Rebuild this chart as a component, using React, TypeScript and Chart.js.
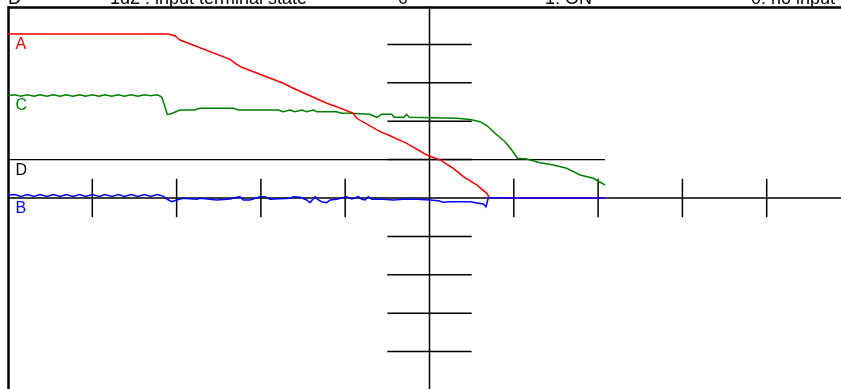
import React, { useEffect, useRef } from "react";
import { Chart, registerables } from "chart.js";

Chart.register(...registerables);

// Trace A (red)
const uA = [-5.0, -3.098, -3.019, -2.992, -2.96, -2.367, -2.287, -2.228, -1.734, -1.616, -1.219, -1.101, -0.904, -0.864, -0.587, -0.489, -0.27, -0.033, 0.125, 0.282, 0.401, 0.56, 0.679, 0.709, 2.082];
const vA = [4.27, 4.27, 4.219, 4.174, 4.115, 3.612, 3.482, 3.404, 2.987, 2.857, 2.466, 2.378, 2.206, 2.076, 1.727, 1.641, 1.424, 1.12, 0.99, 0.773, 0.555, 0.339, 0.122, 0.013, 0.0];

// Trace C (green)
const uC = [-5.0, -4.92, -4.85, -4.77, -4.69, -4.62, -4.54, -4.46, -4.38, -4.31, -4.23, -4.15, -4.08, -4.0, -3.92, -3.85, -3.77, -3.69, -3.62, -3.54, -3.46, -3.38, -3.31, -3.23,
  -3.177, -3.158, -3.11, -3.078, -2.96, -2.782, -2.722, -2.327, -2.268, -1.794, -1.734, -1.655, -1.595, -1.516, -1.457, -1.378, -1.338, -1.101, -1.042, -0.943, -0.706, -0.626, -0.567, -0.448, -0.421, -0.302, -0.273, -0.24, 0.323, 0.48, 0.599, 0.679, 0.777, 0.896, 0.975, 1.042, 1.153, 1.311, 1.469, 1.628, 1.785, 1.943, 2.082];
const vC = [2.66, 2.69, 2.65, 2.69, 2.65, 2.69, 2.65, 2.69, 2.65, 2.69, 2.65, 2.69, 2.65, 2.69, 2.65, 2.69, 2.65, 2.69, 2.65, 2.69, 2.65, 2.69, 2.66, 2.69,
  2.638, 2.508, 2.18, 2.18, 2.292, 2.292, 2.336, 2.336, 2.292, 2.292, 2.247, 2.292, 2.247, 2.292, 2.247, 2.292, 2.247, 2.247, 2.206, 2.206, 2.18, 2.102, 2.18, 2.18, 2.102, 2.102, 2.18, 2.102, 2.076, 2.044, 1.987, 1.888, 1.685, 1.464, 1.25, 1.034, 1.016, 0.919, 0.859, 0.773, 0.599, 0.513, 0.339];

// Trace B (blue)
const uB = [-5.0, -4.92, -4.85, -4.77, -4.69, -4.62, -4.54, -4.46, -4.38, -4.31, -4.23, -4.15, -4.08, -4.0, -3.92, -3.85, -3.77, -3.69, -3.62, -3.54, -3.46, -3.38, -3.31, -3.23, -3.16,
  -3.117, -3.058, -2.999, -2.921, -2.762, -2.722, -2.524, -2.367, -2.248, -2.209, -2.129, -2.011, -1.951, -1.892, -1.655, -1.616, -1.536, -1.457, -1.418, -1.358, -1.319, -1.279, -1.219, -1.18, -1.101, -0.982, -0.923, -0.845, -0.804, -0.765, -0.726, -0.686, -0.548, -0.429, -0.311, -0.152, 0.006, 0.104, 0.164, 0.243, 0.48, 0.638, 0.67, 0.698, 0.916, 0.93, 2.082];
const vB = [0.07, 0.09, 0.04, 0.09, 0.04, 0.09, 0.04, 0.09, 0.04, 0.09, 0.04, 0.09, 0.04, 0.09, 0.04, 0.09, 0.04, 0.09, 0.04, 0.09, 0.04, 0.09, 0.04, 0.09, 0.05,
  -0.026, -0.096, -0.052, -0.008, -0.034, -0.008, -0.052, -0.026, 0.034, -0.052, -0.052, 0.034, 0.034, -0.034, -0.008, 0.034, 0.018, -0.052, -0.122, 0.034, -0.052, -0.096, -0.122, -0.052, -0.034, 0.034, -0.026, 0.034, -0.034, -0.052, 0.034, -0.034, -0.034, -0.052, -0.034, -0.034, -0.052, -0.07, -0.112, -0.096, -0.096, -0.156, -0.227, 0.008, 0.008, 0.0, 0.0];

// Trace D (black, digital)
const uD = [-5.0, 2.082];
const vD = [1, 1];

// Trace labels and their reference levels
const traceLabels = ["A", "C", "D", "B"];
const traceLevels = [4.27, 2.68, 1, 0];
const traceColors = ["#ff0000", "#008000", "#000000", "#0000ff"];

// Header texts (cut off at the top of the picture)
const headerTexts = ["D", "1d2 : input terminal state", "0", "1: ON", "0: no input"];
const headerX = [8, 110, 398, 545, 751];

// Graticule tick positions (divisions)
const xTicks = [-4, -3, -2, -1, 1, 2, 3, 4];
const yTicks = [-4, -3, -2, -1, 1, 2, 3, 4];

const pts = (u: number[], v: number[]) => u.map((x, i) => ({ x, y: v[i] }));

const FONT = "'Liberation Sans', Arial, Helvetica, sans-serif";

const overlay = {
  id: "overlay",
  beforeDatasetsDraw(chart: any) {
    const { ctx, chartArea, scales } = chart;
    const sx = scales.x, sy = scales.y;
    const x0 = sx.getPixelForValue(0);
    const y0 = sy.getPixelForValue(0);
    ctx.save();
    ctx.strokeStyle = "#000";
    ctx.lineWidth = 1.5;
    const ln = (a: number, b: number, c: number, d: number) => {
      ctx.beginPath();
      ctx.moveTo(a, b);
      ctx.lineTo(c, d);
      ctx.stroke();
    };
    ln(x0, chartArea.top, x0, chartArea.bottom);
    ln(chartArea.left, y0, chartArea.right, y0);
    for (const t of yTicks) {
      const py = sy.getPixelForValue(t);
      ln(sx.getPixelForValue(-0.5), py, sx.getPixelForValue(0.5), py);
    }
    for (const t of xTicks) {
      const px = sx.getPixelForValue(t);
      ln(px, sy.getPixelForValue(0.5), px, sy.getPixelForValue(-0.5));
    }
    ctx.lineWidth = 2.5;
    ln(chartArea.left, chartArea.top + 1.5, chartArea.right, chartArea.top + 1.5);
    ln(chartArea.left + 0.5, chartArea.top, chartArea.left + 0.5, chartArea.bottom);
    ctx.restore();
  },
  afterDatasetsDraw(chart: any) {
    const { ctx, scales } = chart;
    const sy = scales.y;
    ctx.save();
    ctx.textBaseline = "alphabetic";
    ctx.textAlign = "left";
    ctx.font = `16px ${FONT}`;
    traceLabels.forEach((l, i) => {
      ctx.fillStyle = traceColors[i];
      ctx.fillText(l, 15.5, sy.getPixelForValue(traceLevels[i]) + 15);
    });
    ctx.font = `18px ${FONT}`;
    ctx.fillStyle = "#000";
    headerTexts.forEach((t, i) => ctx.fillText(t, headerX[i], 4));
    ctx.restore();
  },
};

export default function App() {
  const ref = useRef<HTMLCanvasElement | null>(null);
  useEffect(() => {
    if (!ref.current) return;
    const common = { pointRadius: 0, borderWidth: 1.5, tension: 0, fill: false };
    const chart = new Chart(ref.current, {
      type: "line",
      data: {
        datasets: [
          { label: "B", data: pts(uB, vB), borderColor: "#0000ff", ...common },
          { label: "A", data: pts(uA, vA), borderColor: "#ff0000", ...common },
          { label: "C", data: pts(uC, vC), borderColor: "#008000", ...common },
          { label: "D", data: pts(uD, vD), borderColor: "#000000", borderWidth: 1.2, pointRadius: 0, tension: 0, fill: false },
        ],
      },
      options: {
        responsive: false,
        animation: false,
        parsing: false as any,
        layout: { padding: { left: 8, top: 6, right: 1, bottom: 2 } },
        plugins: { legend: { display: false }, tooltip: { enabled: false }, title: { display: false } },
        scales: {
          x: { type: "linear", min: -5, max: 5, display: false },
          y: { type: "linear", min: -5, max: 5, display: false },
        },
      },
      plugins: [overlay],
    });
    return () => chart.destroy();
  }, []);
  return (
    <div style={{ position: "fixed", left: 0, top: 0, width: 841, height: 389, overflow: "hidden", background: "#fff" }}>
      <canvas ref={ref} width={852} height={392} style={{ display: "block" }} />
    </div>
  );
}
